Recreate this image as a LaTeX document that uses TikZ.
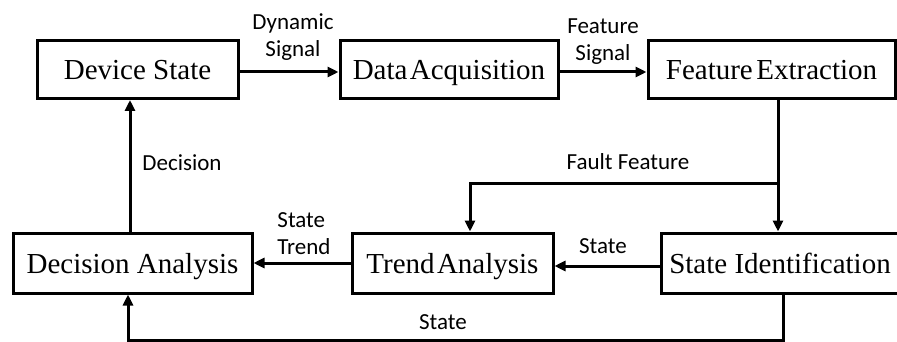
\documentclass[tikz,border=0pt]{standalone}
\usepackage{fontspec}
\setmainfont{Liberation Serif}
\newfontfamily\labfont{Carlito}
\usetikzlibrary{arrows.meta}
\tikzset{
  blk/.style={draw, line width=3pt, inner sep=0pt, text height=26pt, text depth=6pt, font=\fontsize{29}{33}\selectfont},
  conn/.style={line width=3pt, -{Triangle[length=11pt,width=10pt]}},
  plain/.style={line width=3pt},
  lbl/.style={font=\labfont\fontsize{23}{27}\selectfont, inner sep=0pt},
}
\begin{document}
\begin{tikzpicture}[x=1pt,y=-1pt]
\useasboundingbox (0,0) rectangle (897,342);
\node[blk, minimum width=201pt, minimum height=58pt] (ds) at (137.5,69.5) {Device State};
\node[blk, minimum width=218pt, minimum height=58pt] (da) at (449,70) {Data\hspace{0.08em}Acquisition};
\node[blk, minimum width=247pt, minimum height=58pt] (fe) at (771.5,70) {Feature\hspace{0.12em}Extraction};
\node[blk, minimum width=239pt, minimum height=60pt] (dec) at (132.5,263) {Decision Analysis};
\node[blk, minimum width=201pt, minimum height=60pt] (ta) at (452.5,263) {Trend\hspace{0.08em}Analysis};
\node[blk, minimum width=238pt, minimum height=60pt] (si) at (780,263) {State Identification};

\coordinate (j) at (778,183);
\coordinate (jl) at (470,183);
\coordinate (b1) at (783,340);
\coordinate (b2) at (128,340);

\draw[conn] (ds.east |- 0,72) -- (da.west |- 0,72);
\draw[conn] (da.east |- 0,72) -- (fe.west |- 0,72);
\draw[conn] (fe.south -| j) -- (si.north -| j);
\draw[conn] (j) -- (jl) -- (ta.north -| jl);
\draw[conn] (si.west |- 0,266) -- (ta.east |- 0,266);
\draw[conn] (ta.west |- 0,263) -- (dec.east |- 0,263);
\draw[conn] (dec.north -| 130,0) -- (ds.south -| 130,0);
\draw[conn] (si.south -| b1) -- (b1) -- (b2) -- (dec.south -| b2);

\node[lbl, align=center] (l1) at (293,37) {Dynamic\\Signal};
\node[lbl, align=center] (l2) at (603,42) {Feature\\Signal};
\node[lbl] (l3) at (628,162) {Fault Feature};
\node[lbl] (l4) at (182,163) {Decision};
\node[lbl, align=left] (l5) at (304,234) {State\\Trend};
\node[lbl] (l6) at (603,246) {State};
\node[lbl] (l7) at (443,322) {State};
\end{tikzpicture}
\end{document}
